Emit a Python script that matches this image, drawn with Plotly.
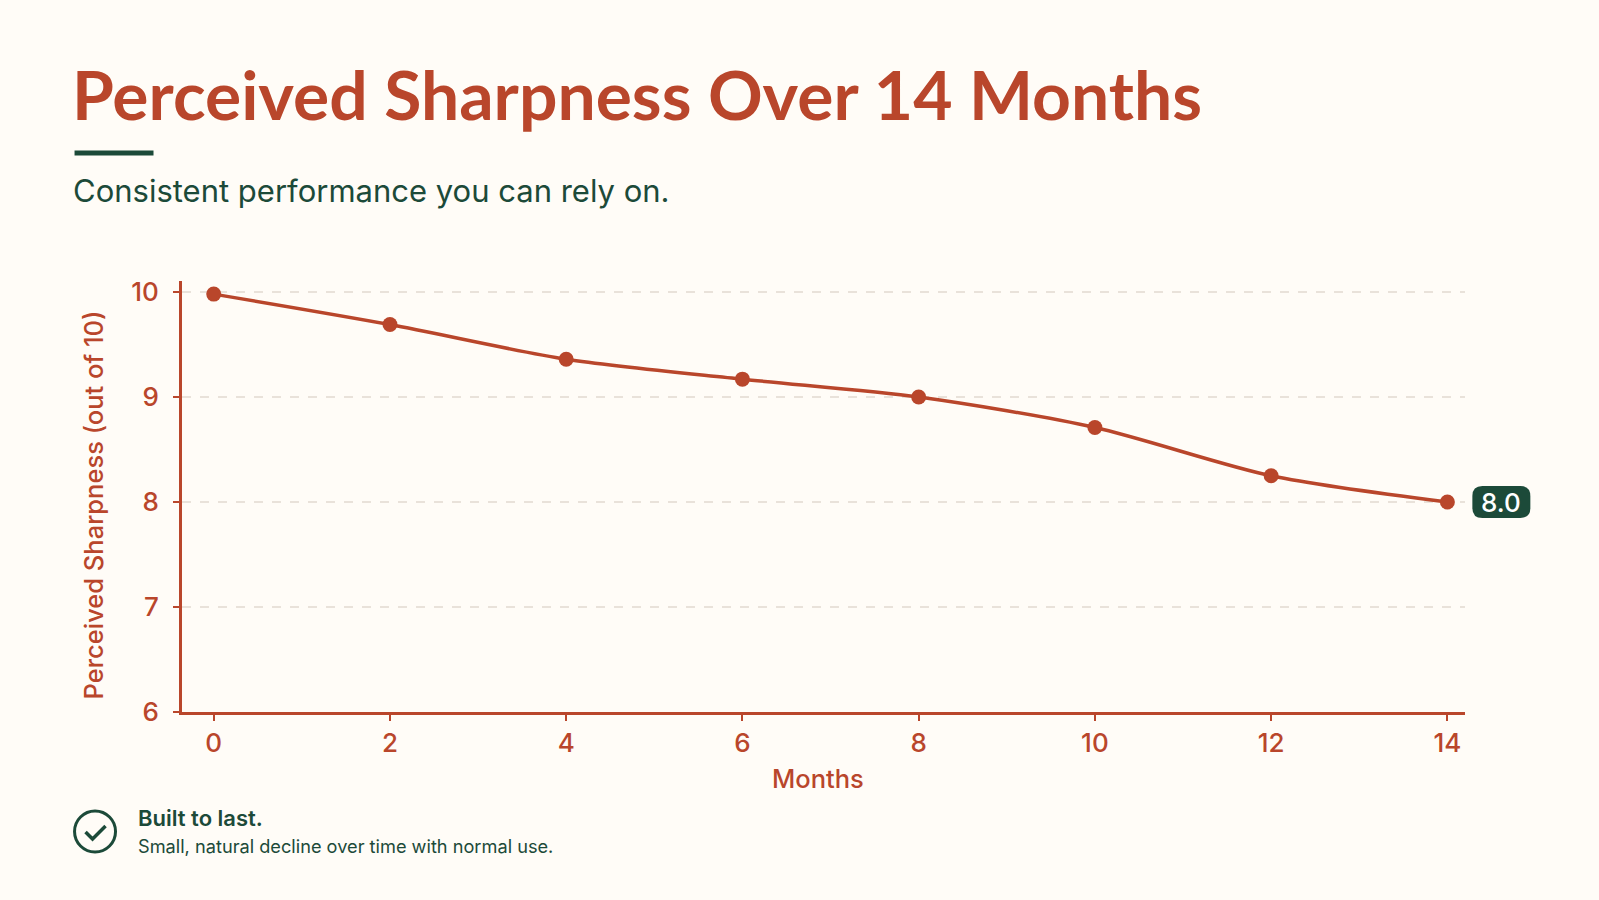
import plotly.graph_objects as go

# Chart data
months = [0, 2, 4, 6, 8, 10, 12, 14]
sharpness = [9.98, 9.69, 9.36, 9.17, 9.00, 8.71, 8.25, 8.0]
y_ticks = [6, 7, 8, 9, 10]

title_text = "Perceived Sharpness Over 14 Months"
subtitle_text = "Consistent performance you can rely on."
x_title = "Months"
y_title = "Perceived Sharpness (out of 10)"
note_head = "Built to last."
note_body = "Small, natural decline over time with normal use."

# Palette and page metrics
RUST = "#B9462B"
GREEN = "#1C4A39"
PAPER = "#FFFCF7"
GRID = "#E9E2DA"
HEAD_FONT = "Lato"
FONT = "Inter"
W, H = 1599, 900
L, R, T, B = 181.5, 1465, 281, 712
X_RANGE = [-0.36, 14.2]
Y_RANGE = [6, 10.105]


def px(x):
    return (x - L) / (R - L)


def py(y):
    return (B - y) / (B - T)


def label(text, x, y, size, color, anchor="left", family=FONT, angle=0, weight=400):
    return dict(text=text, x=px(x), y=py(y), xref="paper", yref="paper",
                xanchor=anchor, yanchor="middle", showarrow=False, textangle=angle,
                font=dict(family=family, size=size, color=color, weight=weight))


fig = go.Figure(go.Scatter(
    x=months, y=sharpness, mode="lines+markers",
    line=dict(color=RUST, width=3.5, shape="spline", smoothing=0.8),
    marker=dict(color=RUST, size=15),
    cliponaxis=False, hoverinfo="skip",
))

# Paper position of the last point, used to hang the value tag beside it
end_x = (months[-1] - X_RANGE[0]) / (X_RANGE[1] - X_RANGE[0])
end_y = (sharpness[-1] - Y_RANGE[0]) / (Y_RANGE[1] - Y_RANGE[0])
plot_w, plot_h = R - L, B - T


def tag_point(dx, dy):
    return f"{end_x + dx / plot_w} {end_y - dy / plot_h}"


r = 10
x0, x1, y0, y1 = 25, 83, -16, 16
tag_path = (f"M {tag_point(x0+r, y0)} L {tag_point(x1-r, y0)} Q {tag_point(x1, y0)} {tag_point(x1, y0+r)} "
            f"L {tag_point(x1, y1-r)} Q {tag_point(x1, y1)} {tag_point(x1-r, y1)} "
            f"L {tag_point(x0+r, y1)} Q {tag_point(x0, y1)} {tag_point(x0, y1-r)} "
            f"L {tag_point(x0, y0+r)} Q {tag_point(x0, y0)} {tag_point(x0+r, y0)} Z")

shapes = [
    dict(type="path", xref="paper", yref="paper", path=tag_path,
         fillcolor=GREEN, line=dict(width=0)),
    # Accent rule under the heading
    dict(type="line", xref="paper", yref="paper", x0=px(74), x1=px(153),
         y0=py(153), y1=py(153), line=dict(color=GREEN, width=5)),
    # Check badge in the footer note
    dict(type="circle", xref="paper", yref="paper", x0=px(74), x1=px(115),
         y0=py(811), y1=py(852), line=dict(color=GREEN, width=3)),
    dict(type="path", xref="paper", yref="paper",
         path=f"M {px(85)} {py(832)} L {px(92)} {py(839)} L {px(105)} {py(826)}",
         line=dict(color=GREEN, width=3.5)),
]

annotations = [
    label(title_text, 69, 93, 67.8, RUST, family=HEAD_FONT, weight=700),
    label(subtitle_text, 70, 190, 31, GREEN),
    label(x_title, 818, 778, 25.5, RUST, anchor="center", weight=500),
    label(y_title, 92, 505, 25.5, RUST, anchor="center", angle=-90, weight=500),
    label(note_head, 135, 818, 22, GREEN, weight=600),
    label(note_body, 135, 846, 18.2, GREEN),
    dict(text=f"{sharpness[-1]:.1f}", x=months[-1], y=sharpness[-1], xref="x", yref="y",
         xshift=54, showarrow=False, font=dict(family=FONT, size=26, color="#FFFFFF", weight=500)),
]

fig.update_layout(
    width=W, height=H, autosize=False,
    margin=dict(l=L, r=W - R, t=T, b=H - B, pad=0),
    paper_bgcolor=PAPER, plot_bgcolor=PAPER,
    showlegend=False, shapes=shapes, annotations=annotations,
    font=dict(family=FONT, color=RUST),
)
fig.update_xaxes(
    range=X_RANGE, tickvals=months, showgrid=False, zeroline=False,
    showline=True, linecolor=RUST, linewidth=3,
    ticks="outside", ticklen=6, tickwidth=2, tickcolor=RUST, ticklabelstandoff=0,
    tickfont=dict(family=FONT, size=26, color=RUST, weight=500),
)
fig.update_yaxes(
    range=Y_RANGE, tickvals=y_ticks, showgrid=True, gridcolor=GRID, griddash="dash",
    gridwidth=2, zeroline=False, showline=True, linecolor=RUST, linewidth=3,
    ticks="outside", ticklen=6, tickwidth=2, tickcolor=RUST, ticklabelstandoff=9,
    tickfont=dict(family=FONT, size=26, color=RUST, weight=500),
)

fig.write_html("out.html", config=dict(displayModeBar=False))
